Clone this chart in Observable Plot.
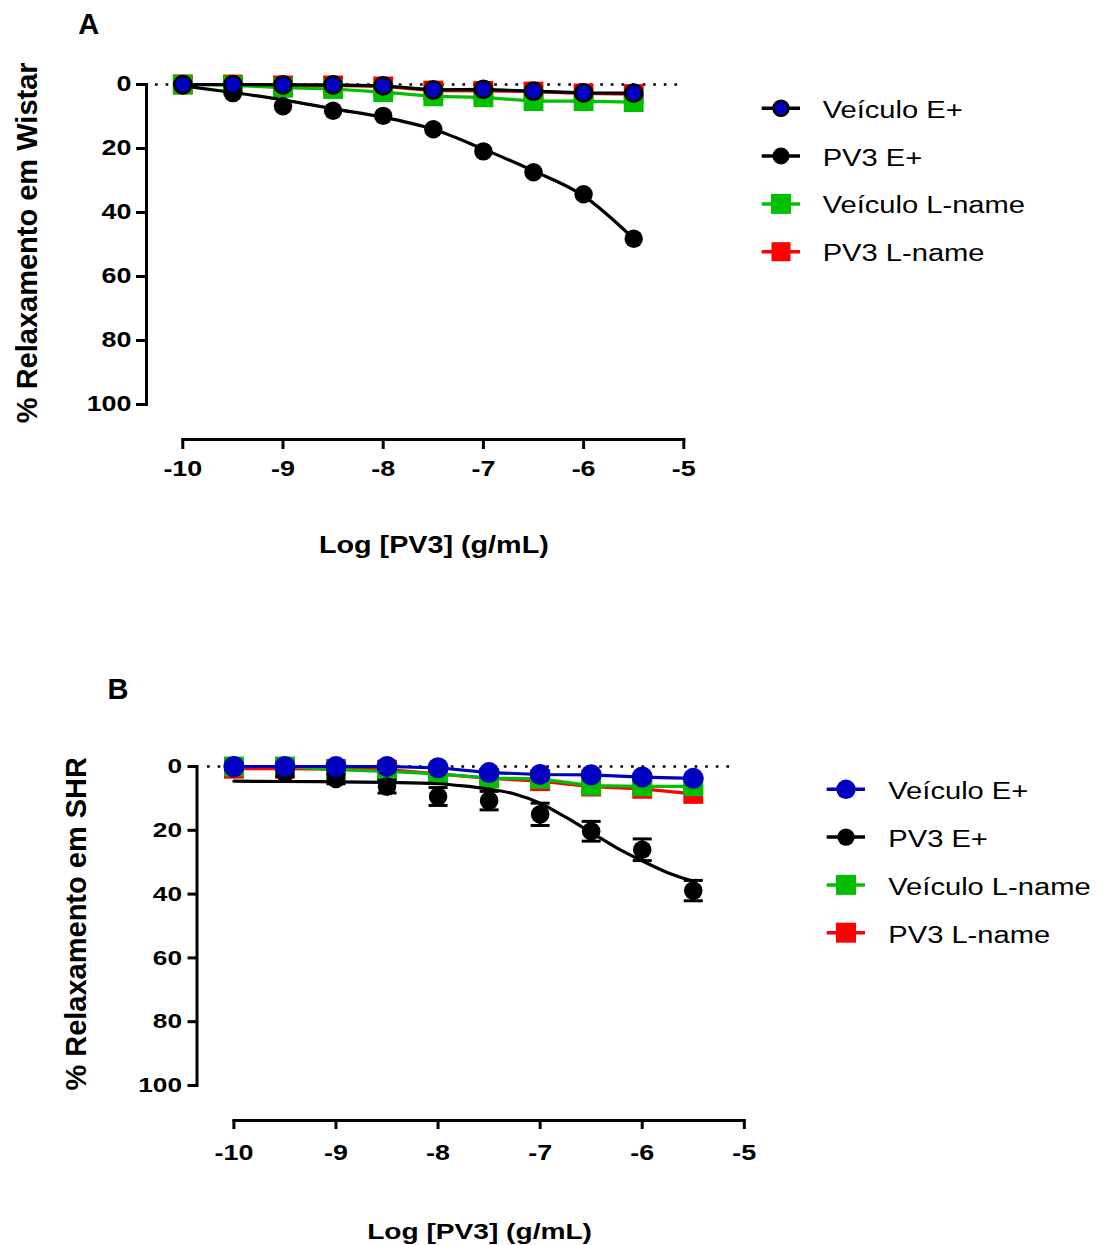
<!DOCTYPE html>
<html lang="pt">
<head>
<meta charset="utf-8">
<title>Relaxamento induzido por PV3</title>
<script src="https://cdn.jsdelivr.net/npm/d3@7"></script>
<script src="https://cdn.jsdelivr.net/npm/@observablehq/plot@0.6"></script>
<style>
html,body{margin:0;padding:0;background:#fff;}
#page{position:relative;width:1100px;height:1245px;overflow:hidden;background:#fff;color:#000;}
#page > svg{position:absolute;left:0;}
</style>
</head>
<body>
<div id="page"></div>
<script>
// ---------------- data ----------------
const doses = [-10, -9.5, -9, -8.5, -8, -7.5, -7, -6.5, -6, -5.5];
const xTicks = [-10, -9, -8, -7, -6, -5];
const yTicks = [0, 20, 40, 60, 80, 100];
const seriesNames = ["Veículo E+", "PV3 E+", "Veículo L-name", "PV3 L-name"];
const xAxisLabel = "Log [PV3] (g/mL)";
const yLabelA = "% Relaxamento em Wistar";
const yLabelB = "% Relaxamento em SHR";
const panelLetters = ["A", "B"];

// Panel A – Wistar
const wistarVehE   = [0, 0, 0.1, 0.1, 0.4, 1.7, 1.5, 2.1, 2.6, 2.7];
const wistarPv3E   = [0.3, 2.7, 6.8, 8.2, 9.8, 14.0, 20.9, 27.4, 34.3, 48.2];
const wistarPv3Fit = [0.4, 2.5, 4.8, 7.6, 10.2, 14.0, 20.2, 27.0, 34.8, 48.2];
const wistarVehL   = [0, 0.3, 1.0, 1.4, 2.4, 3.7, 4.0, 5.2, 5.2, 5.5];
const wistarPv3L   = [0, 0, 0.3, 0.3, 0.6, 1.9, 2.0, 2.2, 2.8, 3.0];

// Panel B – SHR
const shrVehE    = [0, 0, 0, 0, 0.4, 1.9, 2.5, 2.6, 3.3, 3.7];
const shrPv3E    = [0.5, 2.1, 3.9, 6.3, 9.4, 10.7, 15.0, 20.3, 26.1, 38.9];
const shrPv3Sem  = [0.5, 1.0, 1.5, 2.0, 2.8, 2.9, 3.5, 3.1, 3.4, 3.2];
const shrFitDoses = [-10, -9.5, -9, -8.5, -8, -7.75, -7.5, -7.25, -7, -6.75, -6.5, -6.25, -6, -5.75, -5.5];
const shrPv3Fit  = [4.6, 4.7, 4.8, 5.0, 5.4, 6.1, 7.1, 8.6, 11.5, 15.9, 20.7, 25.5, 29.6, 33.3, 36.0];
const shrVehL    = [0, 0, 1.0, 1.5, 2.3, 3.6, 3.9, 6.0, 6.2, 6.2];
const shrPv3L    = [0.7, 0.7, 0.8, 1.0, 2.3, 3.7, 4.6, 6.3, 7.0, 8.6];

// ---------------- styles ----------------
const BLUE = "#0000c0", BLACK = "#000000", GREEN = "#00c000", RED = "#ff0000";
const FONT = "'Liberation Sans', Arial, Helvetica, sans-serif";
const WIDE = 1.25;

const capSymbol = {
  draw(ctx, size) { const r = Math.sqrt(size / Math.PI); ctx.moveTo(-r, 0); ctx.lineTo(r, 0); }
};

function rows(xs, ys) { return xs.map((x, i) => ({x, y: ys[i]})); }

function makePanel(p) {
  const L = p.layout;
  const marks = [
    Plot.ruleY([yTicks[0]], {stroke: BLACK, strokeWidth: 2.7, strokeDasharray: "2.7 7.9",
      insetLeft: L.refInsetLeft, insetRight: L.refInsetRight}),
    Plot.frame({anchor: "left", stroke: BLACK, strokeWidth: 3, strokeLinecap: "square",
      insetBottom: L.axisBottom - L.yRange[1]}),
    Plot.frame({anchor: "bottom", stroke: BLACK, strokeWidth: 3, strokeLinecap: "square",
      insetLeft: L.xRange[0] - L.marginLeft}),
    Plot.axisY(yTicks, {anchor: "left", tickSize: L.yTickSize, tickPadding: L.yTickPadding,
      strokeWidth: 3, fontSize: L.yTickFont, fontWeight: "bold", label: null, tickFormat: d => String(d)}),
    Plot.axisX(xTicks, {anchor: "bottom", tickSize: L.xTickSize, tickPadding: L.xTickPadding,
      strokeWidth: 3, fontSize: L.xTickFont, fontWeight: "bold", label: null, tickFormat: d => String(d)}),
    Plot.text([p.yLabel], {frameAnchor: "left", rotate: -90, textAnchor: "middle", lineAnchor: "bottom",
      dx: L.yLabelDx, dy: L.yLabelDy, fontSize: 29, fontWeight: "bold"}),
    Plot.text([xAxisLabel], {frameAnchor: "bottom", textAnchor: "middle", lineAnchor: "bottom",
      dx: L.xLabelDx, dy: L.xLabelDy, fontSize: L.xLabelFont, fontWeight: "bold"}),
    Plot.text([p.letter], {frameAnchor: "top-left", textAnchor: "middle", lineAnchor: "bottom",
      dx: L.letterDx, dy: L.letterDy, fontSize: 29, fontWeight: "bold"}),

    // PV3 L-name (red)
    Plot.line(rows(doses, p.pv3L), {x: "x", y: "y", stroke: RED, strokeWidth: 3.2}),
    Plot.dot(rows(doses, p.pv3L), {x: "x", y: "y", symbol: "square", r: 11.2, fill: RED}),
    // Veículo L-name (green)
    Plot.line(rows(doses, p.vehL), {x: "x", y: "y", stroke: GREEN, strokeWidth: 3.2}),
    Plot.dot(rows(doses, p.vehL), {x: "x", y: "y", symbol: "square", r: 11.2, fill: GREEN}),
  ];
  if (p.sem) {
    const err = doses.map((x, i) => ({x, lo: p.pv3E[i] - p.sem[i], hi: p.pv3E[i] + p.sem[i]}));
    marks.push(
      Plot.ruleX(err, {x: "x", y1: "lo", y2: "hi", stroke: BLACK, strokeWidth: 3}),
      Plot.dot(err, {x: "x", y: "lo", symbol: capSymbol, r: 9.5, stroke: BLACK, strokeWidth: 3, fill: "none"}),
      Plot.dot(err, {x: "x", y: "hi", symbol: capSymbol, r: 9.5, stroke: BLACK, strokeWidth: 3, fill: "none"})
    );
  }
  marks.push(
    // PV3 E+ (black): fitted curve + points
    Plot.line(rows(p.fitX, p.fitY), {x: "x", y: "y", stroke: BLACK, strokeWidth: 3.2, curve: "monotone-x"}),
    Plot.dot(rows(doses, p.pv3E), {x: "x", y: "y", r: p.blackR, fill: BLACK}),
    // Veículo E+
    Plot.line(rows(doses, p.vehE), {x: "x", y: "y", stroke: p.vehLine, strokeWidth: 3.2}),
    Plot.dot(rows(doses, p.vehE), {x: "x", y: "y", r: p.vehR, fill: BLUE,
      stroke: p.vehStroke, strokeWidth: p.vehStroke ? 2.5 : 0})
  );

  const svg = Plot.plot({
    width: L.width, height: L.height,
    marginLeft: L.marginLeft, marginTop: L.marginTop, marginRight: L.marginRight, marginBottom: L.marginBottom,
    style: {fontFamily: FONT, background: "transparent", overflow: "visible", color: "#000"},
    x: {type: "linear", domain: [xTicks[0], xTicks[xTicks.length - 1]], range: L.xRange},
    y: {type: "linear", domain: [yTicks[0], yTicks[yTicks.length - 1]], range: L.yRange},
    marks
  });
  // Horizontally widened glyphs for tick labels and x-axis title (as in the original figure)
  const widen = t => t.setAttribute("transform", (t.getAttribute("transform") || "") + ` scale(${WIDE},1)`);
  svg.querySelectorAll('g[aria-label="x-axis tick label"] text, g[aria-label="y-axis tick label"] text').forEach(widen);
  svg.querySelectorAll("text").forEach(t => { if (t.textContent === xAxisLabel) widen(t); });
  svg.style.top = L.top + "px";
  return svg;
}

const page = document.getElementById("page");

page.appendChild(makePanel({
  letter: panelLetters[0], yLabel: yLabelA,
  vehE: wistarVehE, pv3E: wistarPv3E, fitX: doses, fitY: wistarPv3Fit, vehL: wistarVehL, pv3L: wistarPv3L,
  vehLine: BLACK, vehStroke: BLACK, vehR: 8.6, blackR: 9.2,
  layout: {
    top: 0, width: 740, height: 580,
    marginLeft: 146, marginTop: 84, marginRight: 56.7, marginBottom: 141,
    xRange: [182.3, 683.3], yRange: [84, 404], axisBottom: 439,
    refInsetLeft: 9, refInsetRight: 6,
    yTickSize: 10, yTickPadding: 5, yTickFont: 21.5,
    xTickSize: 10, xTickPadding: 11, xTickFont: 21.5,
    yLabelDx: -109.5, yLabelDy: -19.2,
    xLabelDx: 18.7, xLabelDy: 113, xLabelFont: 23,
    letterDx: -57.7, letterDy: -50.7
  }
}));

page.appendChild(makePanel({
  letter: panelLetters[1], yLabel: yLabelB,
  vehE: shrVehE, pv3E: shrPv3E, sem: shrPv3Sem, fitX: shrFitDoses, fitY: shrPv3Fit, vehL: shrVehL, pv3L: shrPv3L,
  vehLine: BLUE, vehStroke: null, vehR: 10.5, blackR: 9.3,
  layout: {
    top: 600, width: 800, height: 645,
    marginLeft: 196.5, marginTop: 166, marginRight: 56.2, marginBottom: 125,
    xRange: [233.4, 743.8], yRange: [166, 485], axisBottom: 520,
    refInsetLeft: 10.5, refInsetRight: 7.5,
    yTickSize: 9, yTickPadding: 6, yTickFont: 21,
    xTickSize: 9, xTickPadding: 15, xTickFont: 21.5,
    yLabelDx: -111.5, yLabelDy: -19.7,
    xLabelDx: 8.9, xLabelDy: 118, xLabelFont: 22.5,
    letterDx: -79, letterDy: -67.7
  }
}));

// ---------------- legends ----------------
const legendStyles = {
  A: [
    {line: BLACK, shape: "circle", fill: BLUE, stroke: BLACK, r: 7.5},
    {line: BLACK, shape: "circle", fill: BLACK, stroke: null, r: 8.5},
    {line: GREEN, shape: "square", fill: GREEN, size: 20},
    {line: RED, shape: "square", fill: RED, size: 19}
  ],
  B: [
    {line: BLUE, shape: "circle", fill: BLUE, stroke: null, r: 9.7},
    {line: BLACK, shape: "circle", fill: BLACK, stroke: null, r: 8.7},
    {line: GREEN, shape: "square", fill: GREEN, size: 20},
    {line: RED, shape: "square", fill: RED, size: 20}
  ]
};
const legendLayout = [
  {key: "A", x0: 761.7, x1: 800, cx: 781, y0: 108.3, textX: 822.7, base0: 117.7, step: 47.8},
  {key: "B", x0: 826.7, x1: 865, cx: 846, y0: 789.3, textX: 888.3, base0: 799.3, step: 47.8}
];

const legendSvg = d3.create("svg").attr("width", 1100).attr("height", 1245)
  .style("top", "0px").style("pointer-events", "none");
for (const lg of legendLayout) {
  seriesNames.forEach((name, i) => {
    const st = legendStyles[lg.key][i];
    const cy = lg.y0 + i * lg.step;
    const g = legendSvg.append("g");
    g.append("line").attr("x1", lg.x0).attr("x2", lg.x1).attr("y1", cy).attr("y2", cy)
      .attr("stroke", st.line).attr("stroke-width", 3.5);
    if (st.shape === "circle") {
      g.append("circle").attr("cx", lg.cx).attr("cy", cy).attr("r", st.r).attr("fill", st.fill)
        .attr("stroke", st.stroke || "none").attr("stroke-width", st.stroke ? 2.5 : 0);
    } else {
      g.append("rect").attr("x", lg.cx - st.size / 2).attr("y", cy - st.size / 2)
        .attr("width", st.size).attr("height", st.size).attr("fill", st.fill);
    }
    g.append("text").attr("transform", `translate(${lg.textX},${lg.base0 + i * lg.step}) scale(${WIDE},1)`)
      .attr("font-family", FONT).attr("font-size", 23.3).attr("fill", "#000").text(name);
  });
}
page.appendChild(legendSvg.node());
</script>
</body>
</html>
